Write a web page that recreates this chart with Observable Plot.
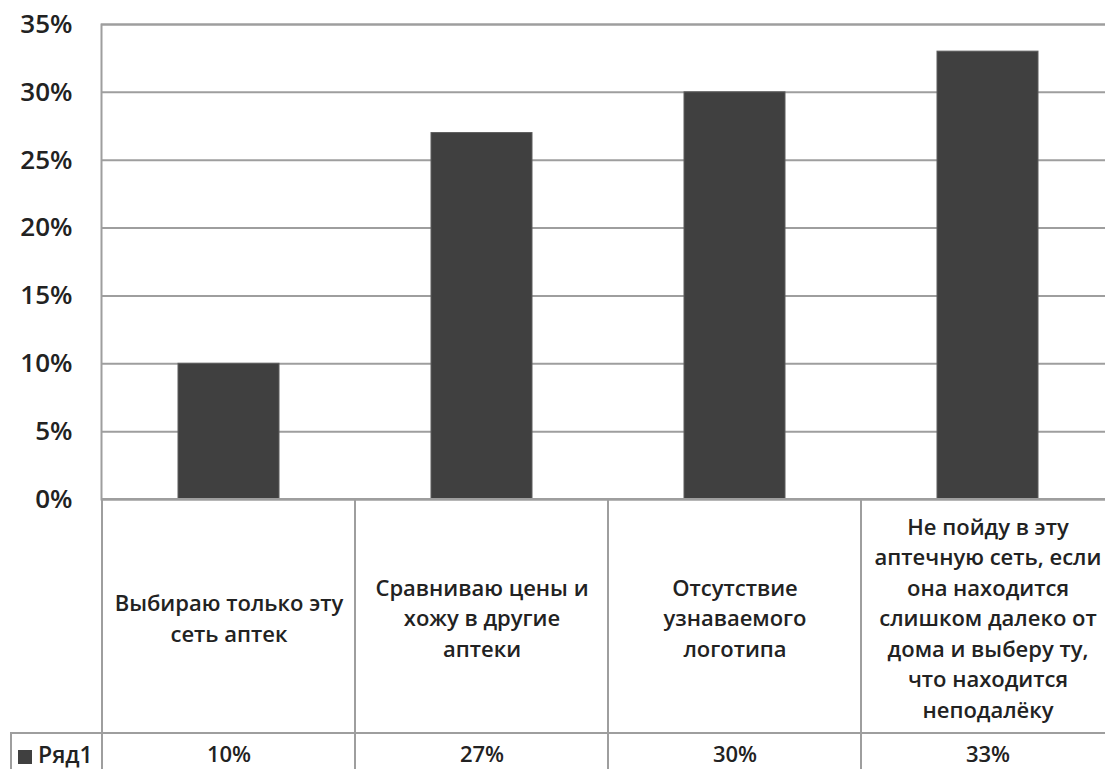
<!DOCTYPE html>
<html><head><meta charset="utf-8">
<script src="https://cdn.jsdelivr.net/npm/d3@7"></script>
<script src="https://cdn.jsdelivr.net/npm/@observablehq/plot@0.6"></script>
<style>
html,body{margin:0;padding:0;background:#fff;overflow:hidden;}
#chart{position:relative;width:1105px;height:769px;overflow:hidden;font-family:"Open Sans",sans-serif;background:#fff;}
#chart .layer{position:absolute;left:0;}
#chart svg{max-width:none;display:block;}
#legend{position:absolute;left:10px;top:732px;width:92px;height:37px;border-left:2px solid #9e9e9e;border-top:2px solid #9e9e9e;box-sizing:border-box;font-size:23px;font-weight:600;color:#222;padding-left:6px;line-height:40px;white-space:nowrap;}
#legend .key{display:inline-block;width:14px;height:14px;background:#404040;margin-right:6px;vertical-align:-1px;}
</style></head>
<body><div id="chart"></div>
<script>
const categories = [
  "Выбираю только эту сеть аптек",
  "Сравниваю цены и хожу в другие аптеки",
  "Отсутствие узнаваемого логотипа",
  "Не пойду в эту аптечную сеть, если она находится слишком далеко от дома и выберу ту, что находится неподалёку"
];
const categoryLabels = [
  "Выбираю только эту\nсеть аптек",
  "Сравниваю цены и\nхожу в другие\nаптеки",
  "Отсутствие\nузнаваемого\nлоготипа",
  "Не пойду в эту\nаптечную сеть, если\nона находится\nслишком далеко от\nдома и выберу ту,\nчто находится\nнеподалёку"
];
const values = [0.10, 0.27, 0.30, 0.33];
const valueLabels = ["10%", "27%", "30%", "33%"];
const yTicks = [0, 0.05, 0.10, 0.15, 0.20, 0.25, 0.30, 0.35];
const seriesName = "Ряд1";

const data = categories.map((c, i) => ({category: c, label: categoryLabels[i], value: values[i], valueLabel: valueLabels[i]}));

const W = 1115;
const GRID = "#9e9e9e";
const INK = "#222";
const FONT = "'Open Sans', sans-serif";
const xBars = {domain: categories, paddingInner: 0.6, paddingOuter: 0.3, axis: null};
const xTable = {domain: categories, padding: 0, axis: null};
const baseStyle = {fontFamily: FONT, maxWidth: "none", overflow: "visible", background: "transparent"};

const chart = document.getElementById("chart");
function place(svg, top) {
  const d = document.createElement("div");
  d.className = "layer";
  d.style.top = top + "px";
  d.appendChild(svg);
  chart.appendChild(d);
}

const bars = Plot.plot({
  width: W, height: 500,
  marginLeft: 101, marginRight: 0, marginTop: 24, marginBottom: 1,
  style: baseStyle,
  x: xBars,
  y: {domain: [0, 0.35], axis: null, label: null},
  marks: [
    Plot.gridY({ticks: yTicks, stroke: GRID, strokeOpacity: 1, strokeWidth: 2}),
    Plot.axisY({ticks: yTicks, tickSize: 0, tickPadding: 29, fontSize: 26, fontWeight: 600, fill: INK, label: null,
      tickFormat: d => Math.round(d * 100) + "%"}),
    Plot.frame({stroke: GRID, strokeWidth: 2}),
    Plot.barY(data, {x: "category", y: "value", fill: "#404040", stroke: "#5c5c5c", strokeWidth: 1})
  ]
});
place(bars, 0);

const rowA = Plot.plot({
  width: W, height: 236,
  marginLeft: 101, marginRight: 0, marginTop: 1, marginBottom: 1,
  style: baseStyle,
  x: xTable,
  marks: [
    Plot.cell(data, {x: "category", fill: "none", stroke: GRID, strokeWidth: 2, inset: 0}),
    Plot.text(data, {x: "category", text: "label", fontSize: 22, fontWeight: 600, lineHeight: 1.39, fill: INK})
  ]
});
place(rowA, 498);

const rowB = Plot.plot({
  width: W, height: 45,
  marginLeft: 101, marginRight: 0, marginTop: 1, marginBottom: 0,
  style: baseStyle,
  x: xTable,
  marks: [
    Plot.cell(data, {x: "category", fill: "none", stroke: GRID, strokeWidth: 2, inset: 0}),
    Plot.text(data, {x: "category", text: "valueLabel", fontSize: 22, fontWeight: 600, fill: INK, dy: -1})
  ]
});
place(rowB, 732);

const legend = document.createElement("div");
legend.id = "legend";
legend.innerHTML = '<span class="key"></span>' + seriesName;
chart.appendChild(legend);
</script>
</body></html>
